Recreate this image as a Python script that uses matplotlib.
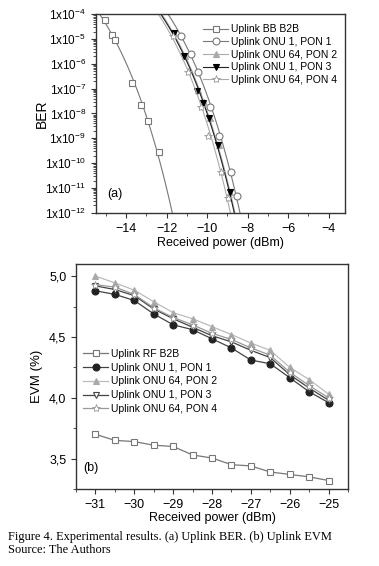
import numpy as np
import matplotlib
matplotlib.use('Agg')
from matplotlib import pyplot as plt
from matplotlib.ticker import FixedLocator, MultipleLocator, FuncFormatter, LogLocator, NullFormatter

plt.rcParams['font.family'] = ['Liberation Sans', 'DejaVu Sans']
plt.rcParams['mathtext.fontset'] = 'custom'
plt.rcParams['mathtext.rm'] = 'Liberation Sans'

# ---- (a) BER data ----
b2b_x = [-15.07, -14.69, -14.54, -13.70, -13.26, -12.93, -12.38]
b2b_ber = [5.8e-5, 1.5e-5, 8.7e-6, 1.7e-7, 2.2e-8, 5.1e-9, 2.8e-10]

pon1_x = [-11.29, -10.82, -10.47, -9.84, -9.40, -8.85, -8.52]
pon1_ber = [1.35e-5, 2.6e-6, 4.8e-7, 1.9e-8, 1.26e-9, 4.3e-11, 4.6e-12]

pon2_x = [-11.62, -11.12, -10.46, -10.16, -9.87, -9.44, -8.86]
pon2_ber = [1.8e-5, 2.1e-6, 8.5e-8, 2.8e-8, 6.3e-9, 5.5e-10, 6.6e-12]

pon3_x = [-11.66, -11.16, -10.50, -10.20, -9.91, -9.48, -8.89]
pon3_ber = [1.8e-5, 2.0e-6, 8.3e-8, 2.75e-8, 6.3e-9, 5.5e-10, 6.6e-12]

pon4_x = [-11.70, -10.94, -10.30, -9.95, -9.31, -8.95]
pon4_ber = [1.26e-5, 4.8e-7, 1.9e-8, 1.26e-9, 4.3e-11, 4.1e-12]

# ---- (b) EVM data ----
evm_x = [-31, -30.5, -30, -29.5, -29, -28.5, -28, -27.5, -27, -26.5, -26, -25.5, -25]
evm_b2b = [3.70, 3.65, 3.64, 3.61, 3.60, 3.53, 3.505, 3.45, 3.44, 3.39, 3.37, 3.35, 3.32]
evm_pon1 = [4.88, 4.85, 4.80, 4.69, 4.60, 4.56, 4.485, 4.41, 4.31, 4.28, 4.165, 4.05, 3.96]
evm_pon2 = [5.00, 4.945, 4.885, 4.79, 4.70, 4.65, 4.585, 4.52, 4.45, 4.39, 4.25, 4.15, 4.03]
evm_pon3 = [4.92, 4.89, 4.84, 4.73, 4.65, 4.58, 4.51, 4.46, 4.39, 4.33, 4.19, 4.08, 3.98]
evm_pon4 = [4.93, 4.91, 4.85, 4.74, 4.66, 4.60, 4.53, 4.48, 4.41, 4.35, 4.21, 4.10, 4.00]

fig = plt.figure(figsize=(3.79, 5.66), dpi=100)


def style_axes(ax):
    for s in ax.spines.values():
        s.set_linewidth(1.0)
        s.set_color('#333333')
    ax.tick_params(which='both', direction='out', top=False, right=False,
                   colors='#333333', labelsize=9, labelcolor='black')
    ax.tick_params(which='major', length=3.5, width=0.8)
    ax.tick_params(which='minor', length=2, width=0.6)


def ber_fit(x, ber):
    # BER fit line: log(-log BER) linear in received power
    q = np.log10(-np.log10(ber))
    b, a = np.polyfit(x, q, 1)
    qq = np.linspace(np.log10(4), np.log10(12), 40)
    return (qq - a) / b, 10.0 ** (-(10.0 ** qq))


# ---- top: BER ----
ax1 = fig.add_axes([0.253, 0.624, 0.657, 0.351])
style_axes(ax1)
ax1.set_yscale('log')

mk = dict(markersize=5, markeredgewidth=0.8)
series = [
    (b2b_x, b2b_ber, dict(color='#777777', marker='s', mfc='white', mec='#777777', **mk)),
    (pon1_x, pon1_ber, dict(color='#777777', marker='o', mfc='white', mec='#777777', **mk)),
    (pon2_x, pon2_ber, dict(color='#aaaaaa', marker='^', mfc='#aaaaaa', mec='#aaaaaa', **mk)),
    (pon3_x, pon3_ber, dict(color='#222222', marker='v', mfc='black', mec='black', **mk)),
    (pon4_x, pon4_ber, dict(color='#aaaaaa', marker='*', mfc='white', mec='#999999',
                            markersize=6, markeredgewidth=0.6)),
]
labels1 = ['Uplink BB B2B', 'Uplink ONU 1, PON 1', 'Uplink ONU 64, PON 2',
           'Uplink ONU 1, PON 3', 'Uplink ONU 64, PON 4']
handles = []
for (x, y, st), lab in zip(series, labels1):
    fx, fy = ber_fit(x, y)
    ax1.plot(fx, fy, color=st['color'], lw=0.8)
    ax1.plot(x, y, ls='none', **{k: v for k, v in st.items() if k != 'color'})
    handles.append(ax1.plot([], [], lw=0.8, **st)[0])

ax1.legend(handles, labels1, loc='upper right', frameon=False, fontsize=7.5,
           handlelength=2.4, handletextpad=0.3, labelspacing=0.25,
           borderaxespad=0.3, bbox_to_anchor=(1.0, 0.985))

ax1.set_xlim(-15.5, -3.2)
ax1.set_ylim(1e-12, 1e-4)
ax1.xaxis.set_major_locator(FixedLocator([-14, -12, -10, -8, -6, -4]))
ax1.xaxis.set_minor_locator(MultipleLocator(1))
ax1.yaxis.set_major_locator(LogLocator(base=10, numticks=20))
ax1.yaxis.set_minor_locator(LogLocator(base=10, subs=np.arange(2, 10), numticks=20))
ax1.yaxis.set_minor_formatter(NullFormatter())
ax1.yaxis.set_major_formatter(FuncFormatter(
    lambda v, p: r'1x10$^{%d}$' % int(round(np.log10(v)))))
ax1.tick_params(axis='y', labelsize=8.5)
ax1.set_xlabel('Received power (dBm)', fontsize=9, labelpad=2)
ax1.set_ylabel('BER', fontsize=10)
ax1.yaxis.set_label_coords(-0.189, 0.5)
ax1.text(0.045, 0.08, '(a)', transform=ax1.transAxes, fontsize=9)

# ---- bottom: EVM ----
ax2 = fig.add_axes([0.2005, 0.136, 0.7177, 0.3976])
style_axes(ax2)
ax2.plot(evm_x, evm_b2b, color='#777777', lw=0.9, marker='s', mfc='white', mec='#777777', **mk)
ax2.plot(evm_x, evm_pon1, color='#444444', lw=0.9, marker='o', mfc='#222222', mec='#222222', **mk)
ax2.plot(evm_x, evm_pon2, color='#bbbbbb', lw=0.9, marker='^', mfc='#aaaaaa', mec='#aaaaaa', **mk)
ax2.plot(evm_x, evm_pon3, color='#444444', lw=0.9, marker='v', mfc='white', mec='#444444', **mk)
ax2.plot(evm_x, evm_pon4, color='#999999', lw=0.9, marker='*', mfc='white', mec='#999999',
         markersize=6, markeredgewidth=0.6)
labels2 = ['Uplink RF B2B', 'Uplink ONU 1, PON 1', 'Uplink ONU 64, PON 2',
           'Uplink ONU 1, PON 3', 'Uplink ONU 64, PON 4']
ax2.legend(labels2, loc='upper left', frameon=False, fontsize=7.5,
           handlelength=2.4, handletextpad=0.3, labelspacing=0.36,
           bbox_to_anchor=(0.0, 0.655), borderaxespad=0.3)

ax2.set_xlim(-31.5, -24.5)
ax2.set_ylim(3.25, 5.1)
ax2.xaxis.set_major_locator(MultipleLocator(1))
ax2.xaxis.set_minor_locator(MultipleLocator(0.5))
ax2.yaxis.set_major_locator(MultipleLocator(0.5))
ax2.yaxis.set_minor_locator(MultipleLocator(0.25))
ax2.yaxis.set_major_formatter(FuncFormatter(lambda v, p: ('%.1f' % v).replace('.', ',')))
ax2.set_xlabel('Received power (dBm)', fontsize=9, labelpad=1)
ax2.set_ylabel('EVM (%)', fontsize=9.5)
ax2.yaxis.set_label_coords(-0.121, 0.5)
ax2.text(0.025, 0.08, '(b)', transform=ax2.transAxes, fontsize=9)

fig.text(0.022, 0.046, 'Figure 4. Experimental results. (a) Uplink BER. (b) Uplink EVM',
         family='Liberation Serif', fontsize=8.9)
fig.text(0.022, 0.023, 'Source: The Authors', family='Liberation Serif', fontsize=8.9)

fig.savefig('out.png', dpi=100)
